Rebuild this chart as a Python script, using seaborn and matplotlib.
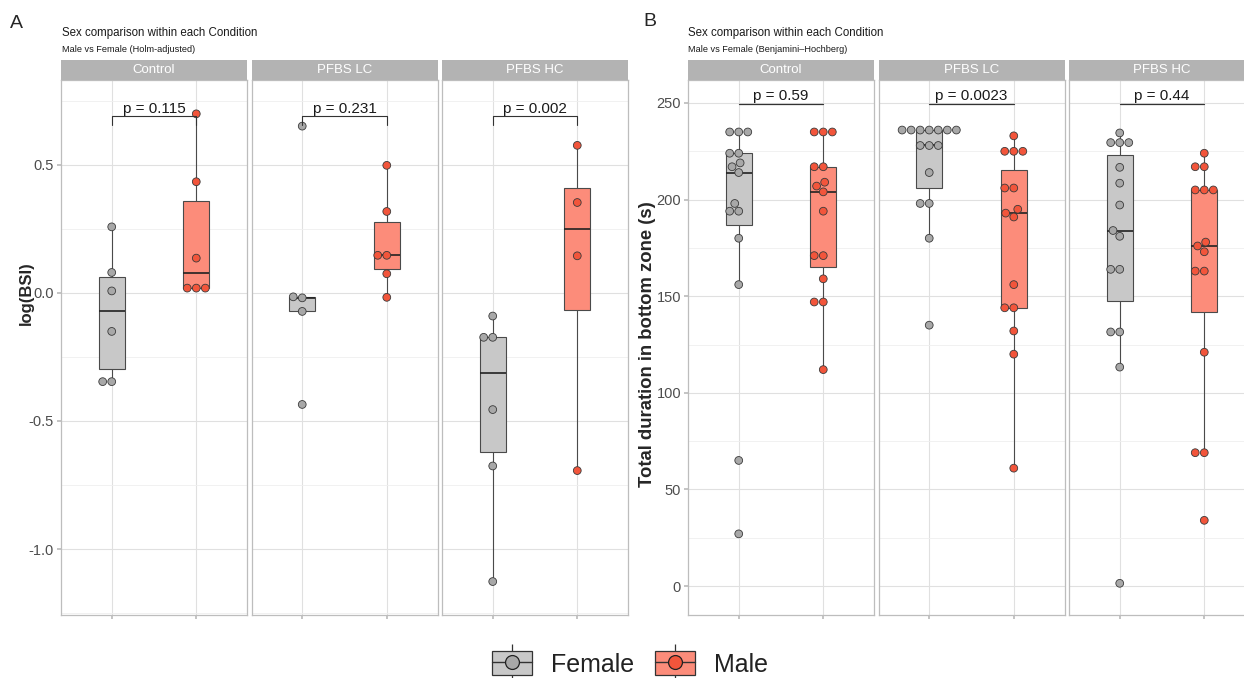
import numpy as np
import pandas as pd
import matplotlib
matplotlib.use("Agg")
import matplotlib.pyplot as plt
import seaborn as sns
from matplotlib.patches import Patch
from matplotlib.lines import Line2D
from matplotlib.legend_handler import HandlerTuple

# ---------------------------------------------------------------- data
conditions = ["Control", "PFBS LC", "PFBS HC"]
sexes = ["Female", "Male"]

# Panel A: log(BSI)
bsi_control_female = [0.257, 0.079, 0.007, -0.151, -0.347, -0.347]
bsi_control_male = [0.698, 0.433, 0.135, 0.018, 0.018, 0.018]
bsi_lc_female = [0.650, -0.016, -0.020, -0.073, -0.436]
bsi_lc_male = [0.497, 0.317, 0.146, 0.146, 0.074, -0.018]
bsi_hc_female = [-0.091, -0.174, -0.174, -0.456, -0.676, -1.127]
bsi_hc_male = [0.575, 0.352, 0.144, -0.694]
bsi_pvalues = ["p = 0.115", "p = 0.231", "p = 0.002"]

# Panel B: total duration in bottom zone (s)
dur_control_female = [235, 235, 235, 224, 224, 219, 217, 214, 198, 194, 194, 180, 156, 65, 27]
dur_control_male = [235, 235, 235, 217, 217, 209, 207, 204, 194, 171, 171, 159, 147, 147, 112]
dur_lc_female = [236, 236, 236, 236, 236, 236, 236, 228, 228, 228, 214, 198, 198, 180, 135]
dur_lc_male = [233, 225, 225, 225, 206, 206, 195, 193, 191, 156, 144, 144, 132, 120, 61]
dur_hc_female = [234.5, 229.5, 229.5, 229.5, 216.7, 208.5, 197.2, 184, 181, 163.9, 163.9, 131.5, 131.5, 113.3, 1.4]
dur_hc_male = [224, 217, 217, 205, 205, 205, 178, 176, 173, 163, 163, 121, 69, 69, 34]
dur_pvalues = ["p = 0.59", "p = 0.0023", "p = 0.44"]


def long_table(groups):
    rows = []
    for cond, (fem, mal) in zip(conditions, groups):
        rows += [(cond, "Female", v) for v in fem]
        rows += [(cond, "Male", v) for v in mal]
    return pd.DataFrame(rows, columns=["Condition", "Sex", "value"])


bsi = long_table([(bsi_control_female, bsi_control_male),
                  (bsi_lc_female, bsi_lc_male),
                  (bsi_hc_female, bsi_hc_male)])
dur = long_table([(dur_control_female, dur_control_male),
                  (dur_lc_female, dur_lc_male),
                  (dur_hc_female, dur_hc_male)])

# ---------------------------------------------------------------- style
sns.set_theme(style="white")
plt.rcParams["font.family"] = ["Liberation Sans", "DejaVu Sans"]
plt.rcParams["axes.unicode_minus"] = False

box_fill = {"Female": "#C8C8C8", "Male": "#FC8C7A"}
dot_fill = {"Female": "#A8A8A8", "Male": "#F2553B"}
edge_dark = "#4A4A4A"
grid_major = "#E0E0E0"
grid_minor = "#EFEFEF"
border = "#BDBDBD"
strip_col = "#B3B3B3"
tick_text = "#4D4D4D"

W, H = 1244, 678
fig = plt.figure(figsize=(W / 100, H / 100), dpi=100)


def px_axes(x0, y0, x1, y1):
    return fig.add_axes([x0 / W, 1 - y1 / H, (x1 - x0) / W, (y1 - y0) / H])


def draw_panel(df, lefts, ylim, major, minor, pvals, bracket, tips):
    axes = []
    for i, (cond, left) in enumerate(zip(conditions, lefts)):
        ax = px_axes(left, 80, left + 186, 615)
        sub = df[df["Condition"] == cond]
        sns.boxplot(data=sub, x="Sex", y="value", hue="Sex", order=sexes,
                    hue_order=sexes, palette=box_fill, saturation=1,
                    width=0.31, linecolor=edge_dark, linewidth=0.8,
                    showfliers=False, legend=False, ax=ax,
                    capprops={"visible": False},
                    medianprops={"color": "#222222", "linewidth": 1.2})
        sns.swarmplot(data=sub, x="Sex", y="value", hue="Sex", order=sexes,
                      hue_order=sexes, palette=dot_fill, size=5.6,
                      edgecolor="#3A3A3A", linewidth=0.6, legend=False,
                      warn_thresh=1.0, ax=ax)
        ax.set_xlim(-0.6, 1.6)
        ax.set_ylim(*ylim)
        ax.set_yticks(major)
        ax.set_yticks(minor, minor=True)
        ax.set_xticks([0, 1])
        ax.grid(which="major", color=grid_major, linewidth=0.8)
        ax.grid(which="minor", axis="y", color=grid_minor, linewidth=0.6)
        ax.set_axisbelow(True)
        for s in ax.spines.values():
            s.set_color(border)
            s.set_linewidth(0.9)
        ax.set_xlabel("")
        ax.set_ylabel("")
        ax.tick_params(axis="x", which="both", bottom=True, length=3,
                       color=border, labelbottom=False)
        ax.tick_params(axis="y", which="minor", left=False)
        if i == 0:
            ax.tick_params(axis="y", which="major", left=True, length=3,
                           color=border, labelsize=10.5, labelcolor=tick_text,
                           pad=2)
        else:
            ax.tick_params(axis="y", which="both", left=False,
                           labelleft=False)
        # significance bracket
        y_line, y_tip, y_text = bracket
        if tips:
            ax.plot([0, 0, 1, 1], [y_tip, y_line, y_line, y_tip],
                    color="#333333", linewidth=0.8, zorder=5)
        else:
            ax.plot([0, 1], [y_line, y_line], color="#333333",
                    linewidth=0.9, zorder=5)
        ax.text(0.5, y_text, pvals[i], ha="center", va="baseline",
                fontsize=11, color="#1A1A1A", zorder=6)
        # facet strip
        sax = px_axes(left, 60, left + 186, 80)
        sax.set_facecolor(strip_col)
        sax.set_xticks([])
        sax.set_yticks([])
        for s in sax.spines.values():
            s.set_visible(False)
        sax.text(0.5, 0.48, cond, ha="center", va="center", color="white",
                 fontsize=9.5, transform=sax.transAxes)
        axes.append(ax)
    return axes


# Panel A
draw_panel(bsi, [61, 251.5, 442], (-1.2575, 0.830),
           [-1.0, -0.5, 0.0, 0.5], [-1.25, -0.75, -0.25, 0.25, 0.75],
           bsi_pvalues, (0.689, 0.655, 0.703), tips=True)
# Panel B
draw_panel(dur, [688, 878.5, 1069], (-15.0, 261.9),
           [0, 50, 100, 150, 200, 250], [25, 75, 125, 175, 225],
           dur_pvalues, (249.4, 249.4, 251.8), tips=False)

# ---------------------------------------------------------------- text
fig.text(10 / W, 1 - 23 / H, "A", fontsize=14, va="center", ha="left")
fig.text(62 / W, 1 - 33 / H, "Sex comparison within each Condition",
         fontsize=8.3, va="center", ha="left", color="#1A1A1A")
fig.text(62 / W, 1 - 49 / H, "Male vs Female (Holm-adjusted)",
         fontsize=6.6, va="center", ha="left", color="#1A1A1A")
fig.text(643 / W, 1 - 22 / H, "B", fontsize=14, va="center", ha="left")
fig.text(688 / W, 1 - 33 / H, "Sex comparison within each Condition",
         fontsize=8.3, va="center", ha="left", color="#1A1A1A")
fig.text(688 / W, 1 - 49 / H, "Male vs Female (Benjamini\u2013Hochberg)",
         fontsize=6.6, va="center", ha="left", color="#1A1A1A")

fig.text(26 / W, 1 - 293 / H, "log(BSI)", rotation=90, fontsize=12,
         fontweight="bold", va="center", ha="center")
fig.text(647 / W, 1 - 344 / H, "Total duration in bottom zone (s)",
         rotation=90, fontsize=13.3, fontweight="bold", va="center",
         ha="center")

# ---------------------------------------------------------------- legend
handles = []
for sx in sexes:
    whisker = Line2D([], [], color="#333333", marker="|", markersize=26,
                     markeredgewidth=0.9, linestyle="none")
    box = Patch(facecolor=box_fill[sx], edgecolor="#333333", linewidth=0.9)
    dot = Line2D([], [], color="#333333", linewidth=1.0, marker="o",
                 markersize=10, markerfacecolor=dot_fill[sx],
                 markeredgecolor="#222222", markeredgewidth=0.9)
    handles.append((whisker, box, dot))

fig.legend(handles, sexes, loc="center", bbox_to_anchor=(630 / W, 1 - 664 / H),
           ncol=2, frameon=False, fontsize=18, numpoints=1,
           handlelength=1.6, handleheight=1.05, handletextpad=0.75,
           columnspacing=0.85, labelcolor="#222222",
           handler_map={tuple: HandlerTuple(ndivide=1, pad=0)})

fig.savefig("out.png", dpi=100)
